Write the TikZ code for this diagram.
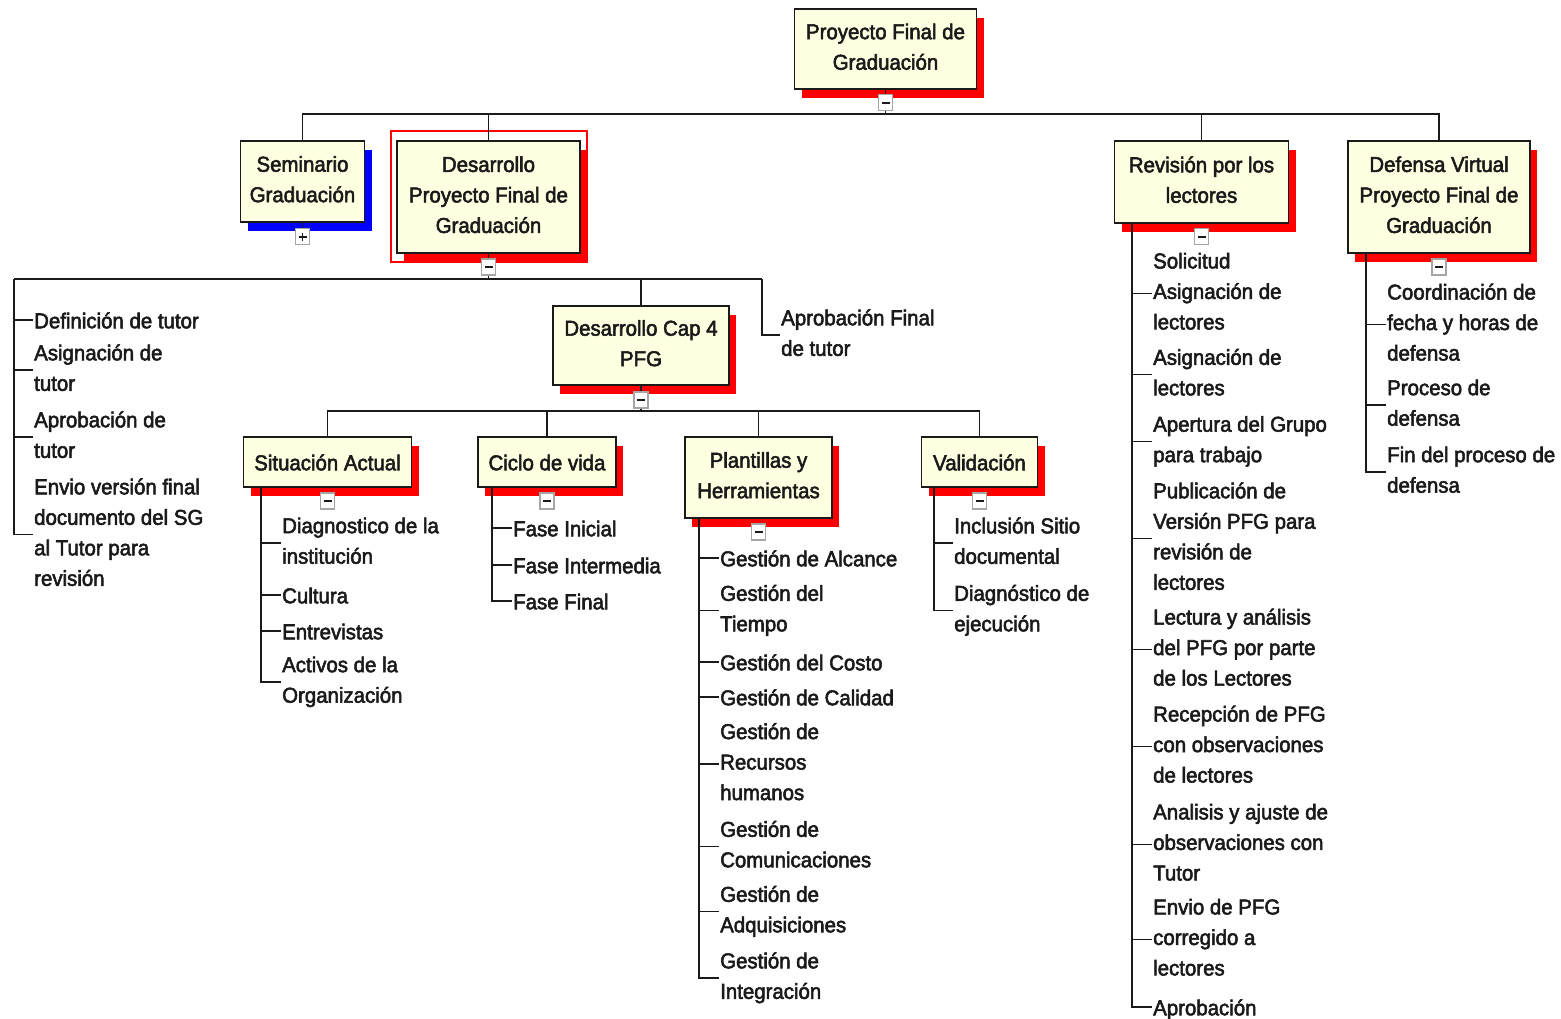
\documentclass[tikz,border=0pt]{standalone}
\usepackage{fontspec}
\setmainfont{Liberation Sans}[FakeStretch=0.95,FakeBold=2.5]
\usetikzlibrary{shadows}
\definecolor{boxfill}{HTML}{FFFFE1}
\definecolor{shred}{HTML}{FF0000}
\definecolor{shblue}{HTML}{0000FF}
\definecolor{ink}{HTML}{1A1A1A}
% strut giving every first and last line the same height and depth
\newcommand\linestrut{\rule[-0.22em]{0pt}{1.21em}}
\begin{document}
\begin{tikzpicture}[x=1pt,y=-1pt,
  every node/.style={font=\fontsize{21.5}{30.5}\selectfont, text=ink},
  wbs/.style={draw=ink, line width=1.8pt, fill=boxfill, align=center,
    inner sep=0pt, execute at begin node=\linestrut, execute at end node=\linestrut},
  redsh/.style={drop shadow={shadow xshift=7pt, shadow yshift=-9pt, fill=shred, opacity=1}},
  bluesh/.style={drop shadow={shadow xshift=7pt, shadow yshift=-9pt, fill=shblue, opacity=1}},
  btnbase/.style={draw=gray!70, fill=white, line width=1.2pt, minimum width=14pt,
    minimum height=16pt, inner sep=0pt},
  btn/.style={btnbase, path picture={\draw[ink, line width=1.8pt]
      ([xshift=-4pt]path picture bounding box.center) --
      ([xshift=4pt]path picture bounding box.center);}},
  plusbtn/.style={btnbase, path picture={\draw[ink, line width=1.8pt]
      ([xshift=-4pt]path picture bounding box.center) --
      ([xshift=4pt]path picture bounding box.center)
      ([yshift=-4pt]path picture bounding box.center) --
      ([yshift=4pt]path picture bounding box.center);}},
  conn/.style={draw=ink, line width=1.6pt},
  item/.style={anchor=west, align=left, inner xsep=1pt, inner ysep=0pt,
    execute at begin node=\linestrut, execute at end node=\linestrut}]

\useasboundingbox (0,0) rectangle (1561,1019);
\fill[white] (0,0) rectangle (1561,1019);

% ---- work packages ----
\node[wbs, redsh, minimum width=182pt, minimum height=80pt] (top) at (885.5,49) {Proyecto Final de\\Graduación};
\node[wbs, bluesh, minimum width=124pt, minimum height=81pt] (sem) at (302.5,181.5) {Seminario\\Graduación};
\draw[shred, line width=1.3pt] (391,131) rectangle (587,262);
\node[wbs, redsh, minimum width=183pt, minimum height=112pt] (dpfg) at (488.5,197) {Desarrollo\\Proyecto Final de\\Graduación};
\node[wbs, redsh, minimum width=174pt, minimum height=82pt] (rev) at (1201.5,182) {Revisión por los\\lectores};
\node[wbs, redsh, minimum width=182pt, minimum height=112pt] (def) at (1439,197) {Defensa Virtual\\Proyecto Final de\\Graduación};
\node[wbs, redsh, minimum width=176pt, minimum height=79pt] (cap4) at (641,345.5) {Desarrollo Cap 4\\PFG};
\node[wbs, redsh, minimum width=168pt, minimum height=50pt] (sit) at (327.5,462) {Situación Actual};
\node[wbs, redsh, minimum width=138pt, minimum height=50pt] (cic) at (547,462) {Ciclo de vida};
\node[wbs, redsh, minimum width=147pt, minimum height=81pt] (pla) at (758.5,477.5) {Plantillas y\\Herramientas};
\node[wbs, redsh, minimum width=116pt, minimum height=50pt] (val) at (979.5,462) {Validación};

% ---- expand / collapse buttons ----
\node[btn] (b0) at ([yshift=-13pt]top.south) {};
\node[plusbtn] (b1) at ([yshift=-14pt]sem.south) {};
\node[btn] (b2) at ([yshift=-13pt]dpfg.south) {};
\node[btn] (b3) at ([yshift=-13pt]rev.south) {};
\node[btn] (b4) at ([yshift=-13pt]def.south) {};
\node[btn] (b5) at ([yshift=-14pt]cap4.south) {};
\node[btn] (b6) at ([yshift=-13pt]sit.south) {};
\node[btn] (b7) at ([yshift=-13pt]cic.south) {};
\node[btn] (b8) at ([yshift=-13pt]pla.south) {};
\node[btn] (b9) at ([yshift=-13pt]val.south) {};

% ---- bus coordinates ----
\coordinate (j1) at (885.5,114);
\coordinate (j2) at (488.5,279);
\coordinate (lv) at (14,279);
\coordinate (av) at (762,279);
\coordinate (j3) at (641,411);

% ---- level 1 ----
\draw[conn] (top.south) -- (b0.north);
\draw[conn] (b0.south) -- (j1);
\draw[conn] (sem.north) |- (j1) -| (def.north);
\draw[conn] (dpfg.north) -- (dpfg.north |- j1);
\draw[conn] (rev.north) -- (rev.north |- j1);
\draw[conn] (sem.south) -- (b1.north);

% ---- level 2 ----
\draw[conn] (dpfg.south) -- (b2.north);
\draw[conn] (b2.south) -- (j2);
\draw[conn] (lv) -- (av);
\draw[conn] (cap4.north) -- (cap4.north |- j2);

% ---- level 3 ----
\draw[conn] (cap4.south) -- (b5.north);
\draw[conn] (b5.south) -- (j3);
\draw[conn] (sit.north) |- (j3) -| (val.north);
\draw[conn] (cic.north) -- (cic.north |- j3);
\draw[conn] (pla.north) -- (pla.north |- j3);

% ---- tasks under Desarrollo Proyecto Final de Graduación ----
\node[item] (L1) at (33,320) {Definición de tutor};
\node[item] (L2) at (33,370) {Asignación de\\tutor};
\node[item] (L3) at (33,437) {Aprobación de\\tutor};
\node[item] (L4) at (33,534.5) {Envio versión final\\documento del SG\\al Tutor para\\revisión};
\draw[conn] (lv) |- (L4.west);
\foreach \n in {L1,L2,L3} \draw[conn] (\n.west) -- (\n.west -| lv);

\node[item] (A1) at (780,335) {Aprobación Final\\de tutor};
\draw[conn] (av) |- (A1.west);

% ---- Situación Actual ----
\coordinate (sv) at (261,487);
\node[item] (S1) at (281,543) {Diagnostico de la\\institución};
\node[item] (S2) at (281,595) {Cultura};
\node[item] (S3) at (281,631) {Entrevistas};
\node[item] (S4) at (281,682) {Activos de la\\Organización};
\draw[conn] (sv) |- (S4.west);
\foreach \n in {S1,S2,S3} \draw[conn] (\n.west) -- (\n.west -| sv);

% ---- Ciclo de vida ----
\coordinate (cv) at (492,487);
\node[item] (C1) at (512,528) {Fase Inicial};
\node[item] (C2) at (512,565) {Fase Intermedia};
\node[item] (C3) at (512,601) {Fase Final};
\draw[conn] (cv) |- (C3.west);
\foreach \n in {C1,C2} \draw[conn] (\n.west) -- (\n.west -| cv);

% ---- Plantillas y Herramientas ----
\coordinate (pv) at (699,518);
\node[item] (P1) at (719,558) {Gestión de Alcance};
\node[item] (P2) at (719,610.5) {Gestión del\\Tiempo};
\node[item] (P3) at (719,662) {Gestión del Costo};
\node[item] (P4) at (719,697) {Gestión de Calidad};
\node[item] (P5) at (719,764) {Gestión de\\Recursos\\humanos};
\node[item] (P6) at (719,846.5) {Gestión de\\Comunicaciones};
\node[item] (P7) at (719,911.5) {Gestión de\\Adquisiciones};
\node[item] (P8) at (719,978) {Gestión de\\Integración};
\draw[conn] (pv) |- (P8.west);
\foreach \n in {P1,P2,P3,P4,P5,P6,P7} \draw[conn] (\n.west) -- (\n.west -| pv);

% ---- Validación ----
\coordinate (vv) at (934,487);
\node[item] (V1) at (953,543) {Inclusión Sitio\\documental};
\node[item] (V2) at (953,610.5) {Diagnóstico de\\ejecución};
\draw[conn] (vv) |- (V2.west);
\draw[conn] (V1.west) -- (V1.west -| vv);

% ---- Revisión por los lectores ----
\coordinate (rv) at (1132,223);
\node[item] (R1) at (1152,293.5) {Solicitud\\Asignación de\\lectores};
\node[item] (R2) at (1152,374.5) {Asignación de\\lectores};
\node[item] (R3) at (1152,441.5) {Apertura del Grupo\\para trabajo};
\node[item] (R4) at (1152,538.5) {Publicación de\\Versión PFG para\\revisión de\\lectores};
\node[item] (R5) at (1152,649.5) {Lectura y análisis\\del PFG por parte\\de los Lectores};
\node[item] (R6) at (1152,746.5) {Recepción de PFG\\con observaciones\\de lectores};
\node[item] (R7) at (1152,844.5) {Analisis y ajuste de\\observaciones con\\Tutor};
\node[item] (R8) at (1152,939.5) {Envio de PFG\\corregido a\\lectores};
\node[item] (R9) at (1152,1007) {Aprobación};
\draw[conn] (rv) |- (R9.west);
\foreach \n in {R1,R2,R3,R4,R5,R6,R7,R8} \draw[conn] (\n.west) -- (\n.west -| rv);

% ---- Defensa Virtual ----
\coordinate (dv) at (1366,253);
\node[item] (D1) at (1386,324.5) {Coordinación de\\fecha y horas de\\defensa};
\node[item] (D2) at (1386,405) {Proceso de\\defensa};
\node[item] (D3) at (1386,472) {Fin del proceso de\\defensa};
\draw[conn] (dv) |- (D3.west);
\foreach \n in {D1,D2} \draw[conn] (\n.west) -- (\n.west -| dv);
\end{tikzpicture}
\end{document}
